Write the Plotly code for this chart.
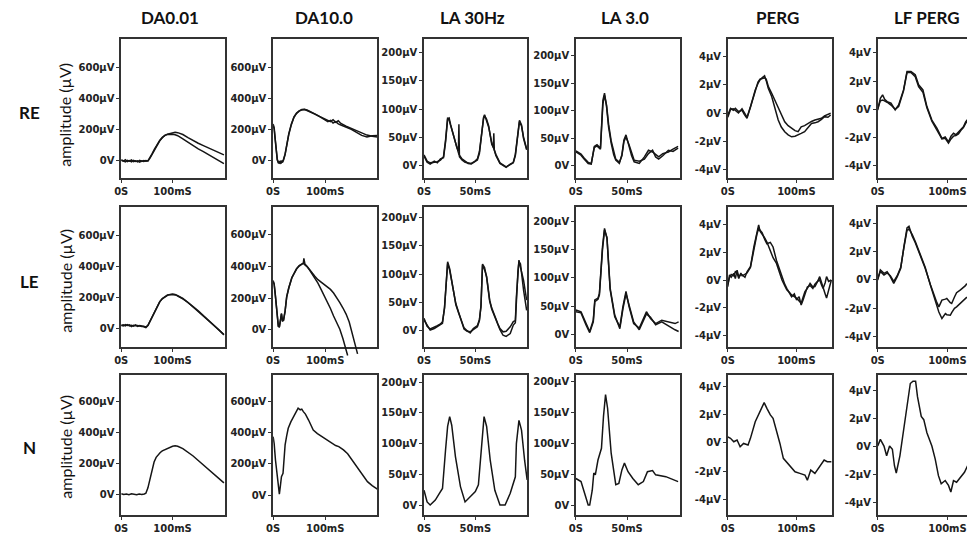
import plotly.graph_objects as go

# The page body adds an 8px margin, so the figure is drawn 8px smaller and positioned accordingly
OFF = 8
W, H = 975 - OFF, 535 - OFF

COLUMNS = ["DA0.01", "DA10.0", "LA 30Hz", "LA 3.0", "PERG", "LF PERG"]
ROWS = ["RE", "LE", "N"]
Y_LABEL = "amplitude (µV)"

# y tick values / labels per column
Y_TICKS = {
    0: ([0, 200, 400, 600], ["0V", "200µV", "400µV", "600µV"]),
    1: ([0, 200, 400, 600], ["0V", "200µV", "400µV", "600µV"]),
    2: ([0, 50, 100, 150, 200], ["0V", "50µV", "100µV", "150µV", "200µV"]),
    3: ([0, 50, 100, 150, 200], ["0V", "50µV", "100µV", "150µV", "200µV"]),
    4: ([-4, -2, 0, 2, 4], ["-4µV", "-2µV", "0V", "2µV", "4µV"]),
    5: ([-4, -2, 0, 2, 4], ["-4µV", "-2µV", "0V", "2µV", "4µV"]),
}
X_TICKS = {
    0: ([0, 100], ["0S", "100mS"]),
    1: ([0, 100], ["0S", "100mS"]),
    2: ([0, 50], ["0S", "50mS"]),
    3: ([0, 50], ["0S", "50mS"]),
    4: ([0, 100], ["0S", "100mS"]),
    5: ([0, 100], ["0S", "100mS"]),
}

# ---------------- data (time in ms, amplitude in µV) ----------------
# DA0.01
RE_DA001_T = [0,4,8,12,16,20,24,28,32,36,40,44,48,52,56,60,65,70,75,80,85,90,95,100,105,110,120,130,140,150,160,170,180,190,200]
RE_DA001_A = [-2,-8,2,-10,-4,-12,-2,-9,-5,-14,-6,-10,-4,-6,12,38,70,100,125,145,160,168,173,177,180,178,166,146,126,109,94,79,63,48,33]
RE_DA001_B = [2,-4,-12,-2,-8,0,-10,-5,-12,-2,-9,-3,-8,-5,14,40,72,102,127,147,160,166,169,168,164,158,138,115,92,72,55,36,16,-4,-24]
LE_DA001_T = [0,4,8,12,16,20,24,28,32,36,40,44,48,52,56,60,65,70,75,80,85,90,95,100,105,110,120,130,140,150,160,170,180,190,200]
LE_DA001_A = [18,22,16,24,15,20,14,22,12,18,15,10,5,18,45,75,110,145,170,190,204,212,218,220,216,210,192,168,140,112,82,52,22,-8,-40]
LE_DA001_B = [20,15,24,18,22,12,20,16,18,14,12,14,8,20,48,78,112,146,172,192,205,214,216,218,218,208,190,166,138,110,80,50,20,-10,-42]
N_DA001_T = [0,5,10,15,20,25,30,35,40,45,48,52,56,60,64,68,72,76,80,90,100,105,110,120,130,140,150,160,170,180,190,200]
N_DA001_Y = [2,-3,0,-4,2,-2,-5,0,-3,0,5,40,100,160,208,238,257,270,280,297,310,313,310,295,272,247,218,188,158,128,99,72]

# DA10.0
RE_DA10_T = [0,2,4,6,8,10,12,14,16,18,20,23,26,30,35,40,45,50,55,60,65,70,80,90,100,105,110,115,120,125,130,140,150,160,170,180,190,200]
RE_DA10_A = [235,210,140,60,5,-15,-20,-5,-18,-10,5,40,100,170,235,280,305,320,328,330,325,318,300,282,265,258,250,262,245,255,238,220,205,188,172,162,155,150]
RE_DA10_B = [225,200,130,55,0,-18,-12,-20,-5,-15,0,35,95,165,230,278,303,318,326,328,322,315,298,280,262,250,258,240,250,235,228,215,200,180,160,150,158,160]
LE_DA10_TA = [0,2,4,6,8,10,12,14,16,18,20,23,26,30,33,36,40,45,50,55,58,59,61,65,70,75,80,86,92,98,104,110,116,122,128,134,140,146,152,158,162]
LE_DA10_A = [311,290,230,150,70,25,18,60,105,55,60,120,210,265,300,330,355,386,405,418,420,450,415,400,378,355,338,316,300,287,272,255,232,205,172,138,100,50,-20,-105,-150]
LE_DA10_TB = [0,2,4,6,8,10,12,14,16,18,20,23,26,30,33,36,40,45,50,55,58,60,65,70,75,80,86,92,98,104,110,116,122,128,134,140,143]
LE_DA10_B = [305,285,225,145,65,22,20,55,100,58,62,118,205,262,298,328,352,383,402,415,420,412,398,376,352,328,295,255,218,180,135,88,50,5,-55,-130,-160]
N_DA10_T = [0,2,4.5,7,10,12,14,16,19,21,23,26,29,34,39,44,48,52,55,58,62,68,72,77,85,92,100,110,120,126,135,143,149,157,165,173,181,190,200]
N_DA10_Y = [375,330,225,150,75,6,60,118,140,230,322,380,429,470,504,535,558,548,552,536,520,482,455,418,395,380,365,340,318,311,290,265,236,200,161,125,86,60,38]

# LA 30Hz
RE_LA30_TA = [0,3,6,10,13,16,19,21,23,24.5,26,28,30,32,34,37,40,43,46,49,52,54,56,58,59,61,63,66,68,70,74,77,80,84,87,89,91,93,95,97,100]
RE_LA30_A = [19,8,5,6,7,10,16,45,85,80,70,55,42,30,20,12,8,4,3,6,10,22,57,85,90,80,68,40,30,20,5,2,-2,2,5,18,50,78,70,50,30]
RE_LA30_TB = [0,3,6,10,13,16,19,21,23,24.5,26,28,30,32,33.5,34,34.5,37,40,43,46,49,52,54,56,58,59,61,63,66,67.5,68,68.5,70,74,77,80,84,87,89,91,93,95,97,100]
RE_LA30_B = [17,6,3,8,5,12,14,42,82,84,72,58,44,32,26,73,16,10,6,5,4,7,12,25,60,83,88,82,70,38,32,57,28,18,4,0,-3,3,6,20,55,80,72,48,28]
LE_LA30_T = [0,3,6,10,13,16,18,20,21.5,23,25,27,29,31,34,37,39,42,45,48,52,54,55.5,57,59,61,64,66,69,72,74,77,80,84,87,89,90,91.5,92.5,94,97,100]
LE_LA30_A = [19,10,1,4,7,10,13,42,90,119,107,85,66,48,31,15,3,-1,-2,2,7,18,45,116,108,96,54,40,25,12,4,-2,-1,7,16,18,60,110,125,112,89,54]
LE_LA30_B = [22,8,3,6,9,12,16,40,88,122,110,88,64,46,30,13,5,0,-4,4,9,20,42,118,112,94,52,38,24,10,2,-8,-10,-5,10,14,55,105,122,118,72,36]
N_LA30_T = [0,3,6,11,15,18,21,23,25,27,30.6,35.5,40,45,50,53,56,58.5,61,64.5,69,74,79,84,89,90,92.5,95,98,100.5]
N_LA30_Y = [24,5,0,8,19,27,90,128,144,130,79,30,5,14,22,33,100,144,128,73,24,0,0,19,46,100,138,122,73,41]

# LA 3.0
RE_LA3_T = [0,5,8,12,15,18,20.6,24,26.4,28,30,32,34.5,37,39,42.5,45,47,49,52,54.5,57,62,67,71,75,78,81,85,90.5,95,100]
RE_LA3_A = [25,19,12,4,3,35,38,32,119,132,107,70,41,20,10,4,20,47,56,35,18,7,4,16,28,25,20,16,22,25,30,35]
RE_LA3_B = [27,21,14,6,4,33,36,30,112,128,110,75,45,24,12,6,18,44,52,38,22,10,8,12,22,28,16,12,18,28,26,32]
LE_LA3_T = [0,5,10,13.5,17,18.5,21.6,23,26,28,30.4,33.5,38,43,46,49,52,56.5,62,67,69,73,78,84,91,97,100.5]
LE_LA3_A = [43,40,19,5,25,61,64,73,155,188,170,79,31,13,49,76,49,19,11,31,40,28,19,25,22,19,22]
LE_LA3_B = [40,38,16,3,22,58,62,70,150,185,172,82,34,10,45,72,52,22,8,28,36,30,17,22,14,8,5]
N_LA3_T = [0,5,8.5,12,13.5,16,17.5,19,21.6,25,27,29,31,34.5,39,42,45,47.5,51,55.7,61,66,70,75,78,88,100]
N_LA3_Y = [43,38,19,0,0,24,52,49,73,92,144,179,157,84,33,35,57,68,54,43,33,38,54,56,49,46,38]

# PERG
RE_PERG_T = [0,4,8,11,15.5,20.7,24,28,33,37,40,44,47,50,53.6,56,59,64,68,73.5,78,83,88,93,98,102.5,107,112,117,122,127,131.6,136.6,141,146,150]
RE_PERG_A = [-0.14,0.33,0.2,0.33,0.1,0.2,-0.1,-0.38,0.45,1.2,1.64,2.1,2.36,2.5,2.64,2.3,1.76,1.17,0.4,-0.5,-1.0,-1.33,-1.55,-1.69,-1.65,-1.57,-1.45,-1.33,-1.0,-0.74,-0.7,-0.62,-0.45,-0.26,-0.3,-0.14]
RE_PERG_B = [-0.3,0.25,0.3,0.2,0.0,0.3,0.0,-0.3,0.4,1.1,1.6,2.2,2.4,2.45,2.5,2.4,1.9,1.4,1.0,0.45,-0.1,-0.62,-0.9,-1.1,-1.25,-1.33,-0.98,-0.9,-0.74,-0.6,-0.5,-0.45,-0.38,-0.2,-0.1,-0.02]
LE_PERG_T = [0,2.5,5,8.7,11,13.5,16,19,21,25,28,33,38,42.5,45,47,50,54,57,62,66,71,75,79,83,86,90,93,97,100,104,107,110,112.5,116,120,124,127,131,134,137,139,142,144,147,151]
LE_PERG_A = [-0.47,0.36,0.2,0.47,0.1,0.71,0.24,0.4,0.36,0.2,0.59,0.95,2.37,3.56,3.96,3.5,3.32,3.0,2.73,2.14,1.6,1.19,0.6,0.0,-0.4,-0.71,-0.9,-1.07,-1.2,-1.3,-1.5,-1.66,-1.2,-0.83,-0.6,-0.24,-0.5,-0.47,-0.1,0.0,-0.4,-0.6,-0.2,0.24,-0.1,0.0]
LE_PERG_B = [-0.3,0.2,0.4,0.3,0.6,0.5,0.1,0.5,0.3,0.4,0.5,0.9,2.2,3.3,3.7,3.6,3.4,2.9,2.6,2.7,2.37,1.4,0.8,0.2,-0.3,-0.6,-1.0,-1.2,-1.0,-1.4,-1.2,-1.8,-1.4,-1.0,-0.5,-0.4,-0.6,-0.3,-0.1,0.24,-0.3,-0.6,-1.0,-1.3,-0.8,0.0]
N_PERG_T = [0,3.9,8.7,13.5,18,23,29.5,33,40,47,53,57,62,66,71,76,81,88,93,98,105,112.5,116,121,127,134,140.5,145,151]
N_PERG_Y = [0.42,0.31,0.07,0.19,-0.28,-0.05,-0.16,0.31,1.48,2.19,2.83,2.43,1.96,1.72,0.9,-0.05,-1.1,-1.46,-1.75,-2.05,-2.16,-2.28,-2.64,-1.93,-2.16,-1.7,-1.22,-1.34,-1.34]

# LF PERG
RE_LFPERG_T = [0,3.8,7,10,13.5,19,25,30,37,42,47.6,53.8,58.6,64.8,70.5,77.6,85,92,96.7,101.4,105,108.6,112,115.7,119,122.8,126,130,134,137,140]
RE_LFPERG_A = [-0.05,0.78,1.02,0.7,0.54,0.43,-0.05,0.31,1.37,2.68,2.68,2.44,1.73,1.37,0.19,-0.76,-1.35,-2.06,-1.95,-2.3,-1.9,-1.7,-1.8,-1.6,-1.4,-1.24,-0.9,-0.64,-0.5,-0.4,-0.35]
RE_LFPERG_B = [0.05,0.6,0.66,0.6,0.5,0.3,0.0,0.2,1.3,2.6,2.6,2.3,1.6,1.2,0.1,-0.85,-1.45,-2.1,-2.05,-2.4,-2.1,-1.9,-1.85,-1.75,-1.5,-1.3,-1.0,-0.7,-0.55,-0.45,-0.4]
LE_LFPERG_T = [0,3.8,9,13.5,18,23,28,33,37.6,42,44.8,49.5,54,61,68,75.7,80.5,84,87.6,92,97,99,104,106,110,113,118.6,120,125.7,127,132.8,137,140]
LE_LFPERG_A = [0,0.71,0.47,0.59,0.24,-0.24,0.24,0.83,2.37,3.67,3.79,3.08,2.61,1.78,0.83,-0.36,-1.07,-1.5,-1.9,-1.42,-1.35,-1.3,-1.6,-1.66,-1.2,-0.9,-0.7,-0.65,-0.4,-0.3,-0.28,-0.24,-0.2]
LE_LFPERG_B = [0.1,0.6,0.35,0.5,0.3,-0.1,0.3,0.9,2.3,3.5,3.6,3.2,2.7,1.85,0.9,-0.4,-1.2,-1.8,-2.26,-2.72,-2.37,-2.45,-2.49,-2.3,-2.0,-1.9,-1.66,-1.6,-1.3,-1.25,-1.07,-0.95,-0.9]
N_LFPERG_T = [0,3.8,9,12.8,17,21,24,26.6,31.8,37,42,46.7,50.5,54.3,57,62.4,66,70.5,77.6,82.4,87,91,96.7,101.4,104.8,108.6,113,118.6,124.3,130,135,139.6]
N_LFPERG_Y = [0.04,0.52,0.04,-0.66,0.04,-0.19,-1.37,-1.89,-0.66,1.22,2.87,4.52,4.69,4.69,3.58,2.16,1.93,0.99,0.04,-0.9,-2.08,-2.66,-2.43,-2.78,-3.25,-2.43,-2.55,-2.19,-1.84,-1.25,-1.48,-1.25]

# (row, col) -> list of (t, y) traces
PANELS = {
    (0, 0): [(RE_DA001_T, RE_DA001_A), (RE_DA001_T, RE_DA001_B)],
    (1, 0): [(LE_DA001_T, LE_DA001_A), (LE_DA001_T, LE_DA001_B)],
    (2, 0): [(N_DA001_T, N_DA001_Y)],
    (0, 1): [(RE_DA10_T, RE_DA10_A), (RE_DA10_T, RE_DA10_B)],
    (1, 1): [(LE_DA10_TA, LE_DA10_A), (LE_DA10_TB, LE_DA10_B)],
    (2, 1): [(N_DA10_T, N_DA10_Y)],
    (0, 2): [(RE_LA30_TA, RE_LA30_A), (RE_LA30_TB, RE_LA30_B)],
    (1, 2): [(LE_LA30_T, LE_LA30_A), (LE_LA30_T, LE_LA30_B)],
    (2, 2): [(N_LA30_T, N_LA30_Y)],
    (0, 3): [(RE_LA3_T, RE_LA3_A), (RE_LA3_T, RE_LA3_B)],
    (1, 3): [(LE_LA3_T, LE_LA3_A), (LE_LA3_T, LE_LA3_B)],
    (2, 3): [(N_LA3_T, N_LA3_Y)],
    (0, 4): [(RE_PERG_T, RE_PERG_A), (RE_PERG_T, RE_PERG_B)],
    (1, 4): [(LE_PERG_T, LE_PERG_A), (LE_PERG_T, LE_PERG_B)],
    (2, 4): [(N_PERG_T, N_PERG_Y)],
    (0, 5): [(RE_LFPERG_T, RE_LFPERG_A), (RE_LFPERG_T, RE_LFPERG_B)],
    (1, 5): [(LE_LFPERG_T, LE_LFPERG_A), (LE_LFPERG_T, LE_LFPERG_B)],
    (2, 5): [(N_LFPERG_T, N_LFPERG_Y)],
}
# panels whose traces run past the bottom edge of the frame in the original
OVERFLOW = {(1, 1): 9}  # extra pixels below the frame

# ---------------- layout geometry (page pixels) ----------------
COL_PX = [(115, 220), (268, 373), (420, 524), (573, 678), (726, 831), (877, 975)]
ROW_PX = [(39, 178), (207, 347), (375, 515)]
X_RANGES = [[0, 203], [0, 200], [0, 100.6], [0, 102], [0, 152], [0, 139.4]]
Y_RANGES = {
    (0, 0): [-117, 787], (0, 1): [-117, 787], (0, 2): [-21.7, 223.5], (0, 3): [-22.4, 230.4], (0, 4): [-4.62, 5.26], (0, 5): [-4.86, 4.97],
    (1, 0): [-120, 780], (1, 1): [-107, 773], (1, 2): [-28.8, 218.9], (1, 3): [-22.6, 226], (1, 4): [-4.81, 5.24], (1, 5): [-4.73, 5.15],
    (2, 0): [-136.5, 773.6], (2, 1): [-128.6, 771.7], (2, 2): [-16.3, 211.9], (2, 3): [-16.2, 210.9], (2, 4): [-5.1, 4.78], (2, 5): [-4.9, 5.13],
}


def px_x(p):
    return (p - OFF) / W


def px_y(p):
    return 1 - (p - OFF) / H


AXIS_COLOR = "#333333"
LINE = dict(color="#151515", width=1.5)
TICK_FONT = dict(family="DejaVu Sans", size=10, color="#222222", weight="bold")

fig = go.Figure()
layout = dict(
    width=W, height=H, autosize=False,
    margin=dict(l=0, r=0, t=0, b=0),
    paper_bgcolor="white", plot_bgcolor="rgba(0,0,0,0)",
    showlegend=False,
)

n = 0
extra = 18
for r in range(3):
    for c in range(6):
        n += 1
        xa = "xaxis" if n == 1 else f"xaxis{n}"
        ya = "yaxis" if n == 1 else f"yaxis{n}"
        xr = "x" if n == 1 else f"x{n}"
        yr = "y" if n == 1 else f"y{n}"
        x0, x1 = COL_PX[c]
        top, bot = ROW_PX[r]
        last = (c == 5)
        xdom = [px_x(x0), min(1.0, px_x(x1))]
        layout[xa] = dict(
            domain=xdom, anchor=yr, range=X_RANGES[c],
            showgrid=False, zeroline=False, showline=True, mirror=True,
            linecolor=AXIS_COLOR, linewidth=1.5,
            ticks="outside", ticklen=3, tickwidth=1.2, tickcolor=AXIS_COLOR,
            tickvals=X_TICKS[c][0], ticktext=X_TICKS[c][1], tickfont=TICK_FONT,
            fixedrange=True,
        )
        layout[ya] = dict(
            domain=[px_y(bot), px_y(top)], anchor=xr, range=Y_RANGES[(r, c)],
            showgrid=False, zeroline=False, showline=True, mirror=(not last),
            linecolor=AXIS_COLOR, linewidth=1.5,
            ticks="outside", ticklen=3, tickwidth=1.2, tickcolor=AXIS_COLOR,
            tickvals=Y_TICKS[c][0], ticktext=Y_TICKS[c][1], tickfont=TICK_FONT,
            fixedrange=True,
        )
        txr, tyr = xr, yr
        if (r, c) in OVERFLOW:
            # keep the framed subplot alive with an empty trace
            fig.add_trace(go.Scatter(x=[], y=[], mode="lines", xaxis=xr, yaxis=yr, hoverinfo="skip"))
            # a hidden, taller copy of the same scale so the traces may run below the frame
            extra += 1
            ex = OVERFLOW[(r, c)]
            lo, hi = Y_RANGES[(r, c)]
            per_px = (hi - lo) / (bot - top)
            txr, tyr = f"x{extra}", f"y{extra}"
            layout[f"xaxis{extra}"] = dict(domain=xdom, anchor=tyr, range=X_RANGES[c], visible=False, fixedrange=True)
            layout[f"yaxis{extra}"] = dict(domain=[px_y(bot + ex), px_y(top)], anchor=txr,
                                           range=[lo - ex * per_px, hi], visible=False, fixedrange=True)
        for (t, y) in PANELS[(r, c)]:
            fig.add_trace(go.Scatter(
                x=t, y=y, mode="lines", xaxis=txr, yaxis=tyr,
                line=LINE, hoverinfo="skip",
            ))

annotations = []
TITLE_X = [164.5, 319, 469, 622.5, 776, 926.7]
for name, tx in zip(COLUMNS, TITLE_X):
    annotations.append(dict(
        text=name, x=px_x(tx), y=px_y(18), xref="paper", yref="paper",
        xanchor="center", yanchor="middle", showarrow=False,
        font=dict(family="Lato", size=17, color="#111111", weight="bold"),
    ))
ROW_LABEL_Y = [112, 281, 447]
AMP_Y = [115, 281, 447]
for name, ry, ay in zip(ROWS, ROW_LABEL_Y, AMP_Y):
    annotations.append(dict(
        text=name, x=px_x(23), y=px_y(ry), xref="paper", yref="paper",
        xanchor="center", yanchor="middle", showarrow=False,
        font=dict(family="Lato", size=17, color="#111111", weight="bold"),
    ))
    annotations.append(dict(
        text=Y_LABEL, x=px_x(58), y=px_y(ay), xref="paper", yref="paper",
        xanchor="center", yanchor="middle", showarrow=False, textangle=-90,
        font=dict(family="Lato", size=16, color="#111111"),
    ))
layout["annotations"] = annotations

fig.update_layout(**layout)
fig.write_html("out.html", config={"displayModeBar": False})
